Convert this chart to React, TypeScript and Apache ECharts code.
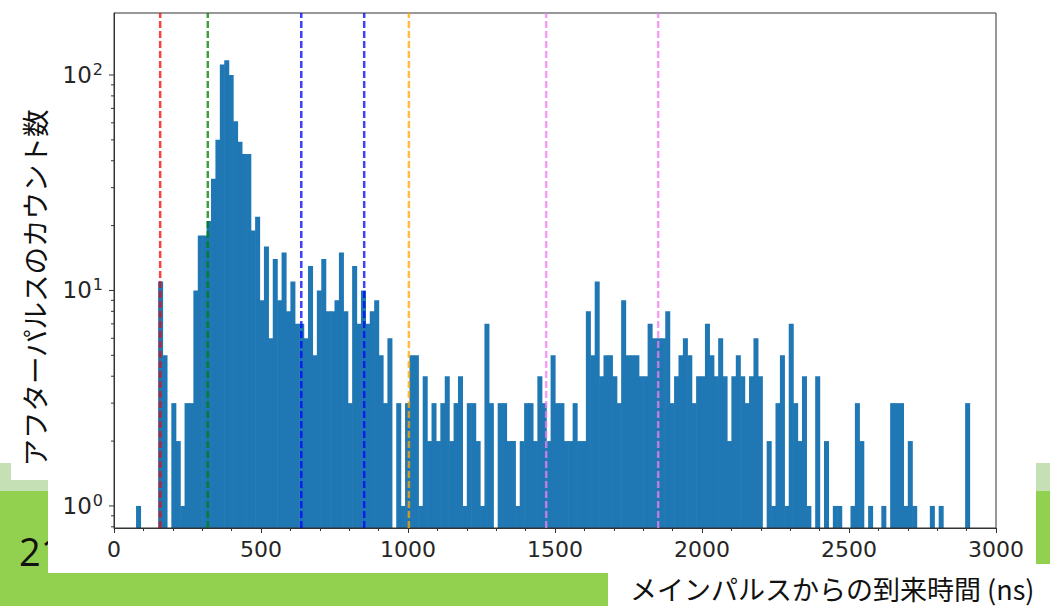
import React, { useEffect, useRef } from 'react';
import * as echarts from 'echarts';

// Histogram of after-pulse arrival times: bins of 15 ns starting at 75 ns.
const BIN_START = 75;
const BIN_WIDTH = 15;
const counts = [
  1, 0, 0, 0, 0, 11, 5, 0, 3, 2,
  1, 3, 3, 10, 18, 18, 21, 33, 50, 112,
  117, 100, 61, 49, 43, 43, 19, 22, 9, 16,
  6, 14, 9, 15, 8, 11, 7, 7, 6, 13,
  5, 10, 14, 8, 8, 9, 15, 8, 3, 13,
  7, 10, 7, 8, 9, 5, 3, 6, 0, 3,
  1, 3, 5, 5, 1, 4, 2, 3, 2, 3,
  4, 2, 3, 4, 1, 3, 3, 2, 1, 7,
  3, 0, 3, 3, 2, 2, 1, 2, 3, 3,
  2, 4, 3, 2, 5, 3, 3, 2, 2, 3,
  2, 2, 8, 5, 11, 4, 5, 5, 4, 3,
  9, 5, 5, 5, 4, 4, 7, 6, 6, 6,
  8, 3, 4, 5, 6, 5, 3, 4, 4, 7,
  5, 4, 6, 4, 2, 4, 5, 4, 3, 4,
  6, 4, 0, 2, 1, 3, 5, 1, 7, 3,
  2, 4, 1, 0, 4, 0, 2, 0, 1, 1,
  0, 0, 1, 3, 2, 0, 1, 0, 0, 1,
  0, 3, 3, 3, 1, 2, 1, 0, 0, 0,
  1, 0, 1, 0, 0, 0, 0, 0, 3,
];

// Reference times (ns) marked with dashed vertical lines.
const markerTimes = [157, 319, 637, 851, 1003, 1470, 1851];
const markerColors = ['#ff0000', '#008000', '#0000ff', '#0000ff', '#ffa500', '#ee82ee', '#ee82ee'];

// Log-axis tick values.
const yMajorTicks = [1, 10, 100];
const yMinorTicks = [0.8, 0.9, 2, 3, 4, 5, 6, 7, 8, 9, 20, 30, 40, 50, 60, 70, 80, 90];

const Y_MIN = 0.79;
const Y_MAX = 194;
const X_MIN = 0;
const X_MAX = 3000;

const yTitle = 'アフターパルスのカウント数';
const xTitle = 'メインパルスからの到来時間 (ns)';
const pageNumber = '21';

const AXIS_COLOR = '#333333';
const LABEL_COLOR = '#262626';
const BAR_COLOR = '#1f77b4';
const GREEN = '#92d050';
const LIGHT_GREEN = '#c5e0b4';

export default function App() {
  const ref = useRef<HTMLDivElement>(null);

  useEffect(() => {
    if (!ref.current) return;
    const chart = echarts.init(ref.current, null, { renderer: 'svg' });

    const bins = counts
      .map((c, i) => [BIN_START + i * BIN_WIDTH, BIN_START + (i + 1) * BIN_WIDTH, c])
      .filter((d) => d[2] > 0);

    const tickData = [
      ...yMajorTicks.map((v) => [X_MIN, v, 1]),
      ...yMinorTicks.filter((v) => v >= Y_MIN && v <= Y_MAX).map((v) => [X_MIN, v, 0]),
    ];

    const rect = (x: number, y: number, w: number, h: number, fill: string, z: number) => ({
      type: 'rect',
      shape: { x, y, width: w, height: h },
      style: { fill },
      z,
      silent: true,
    });

    const option: any = {
      animation: false,
      backgroundColor: '#ffffff',
      grid: {
        left: 114,
        right: 54,
        top: 13,
        bottom: 78,
        show: true,
        borderColor: AXIS_COLOR,
        borderWidth: 1,
        backgroundColor: 'transparent',
        z: 3,
      },
      xAxis: {
        type: 'value',
        min: X_MIN,
        max: X_MAX,
        interval: 500,
        z: 5,
        axisLine: { show: true, onZero: false, lineStyle: { color: AXIS_COLOR, width: 1 } },
        axisTick: { show: true, length: 5, lineStyle: { color: AXIS_COLOR } },
        minorTick: { show: true, splitNumber: 5, length: 3, lineStyle: { color: AXIS_COLOR } },
        splitLine: { show: false },
        minorSplitLine: { show: false },
        axisLabel: {
          fontSize: 22,
          fontFamily: 'DejaVu Sans',
          color: LABEL_COLOR,
          margin: 10,
          formatter: (v: number) => String(v),
        },
      },
      yAxis: {
        type: 'log',
        logBase: 10,
        min: Y_MIN,
        max: Y_MAX,
        z: 5,
        axisLine: { show: true, onZero: false, lineStyle: { color: AXIS_COLOR, width: 1 } },
        axisTick: { show: false },
        minorTick: { show: false },
        splitLine: { show: false },
        axisLabel: {
          margin: 11,
          showMinLabel: false,
          showMaxLabel: false,
          formatter: (v: number) => {
            const l = Math.log10(v);
            const e = Math.round(l);
            return Math.abs(l - e) < 1e-6 ? `{b|10}{s|${e}}` : '';
          },
          rich: {
            b: { fontSize: 23, fontFamily: 'DejaVu Sans', color: LABEL_COLOR, lineHeight: 27 },
            s: { fontSize: 16, fontFamily: 'DejaVu Sans', color: LABEL_COLOR, lineHeight: 14, verticalAlign: 'top', padding: [0, 0, 0, 1] },
          },
        },
      },
      graphic: {
        elements: [
          rect(0, 463, 1050, 28, LIGHT_GREEN, -10),
          rect(0, 491, 1050, 115, GREEN, -10),
          {
            type: 'text',
            x: 19,
            y: 551,
            z: -9,
            silent: true,
            style: { text: pageNumber, fontSize: 38, fontFamily: 'Open Sans', fill: '#111111', verticalAlign: 'middle' },
          },
          rect(11, 0, 37, 480, '#ffffff', -8),
          rect(48, 0, 988, 573, '#ffffff', -8),
          rect(608, 564, 442, 42, '#ffffff', -8),
          {
            type: 'text',
            x: 34,
            y: 288,
            rotation: Math.PI / 2,
            z: 6,
            silent: true,
            style: {
              text: yTitle,
              fontSize: 27.5,
              fontFamily: 'Noto Sans CJK JP',
              fill: '#111111',
              align: 'center',
              verticalAlign: 'middle',
            },
          },
          {
            type: 'text',
            x: 630,
            y: 588,
            z: 6,
            silent: true,
            style: {
              text: xTitle,
              fontSize: 27,
              fontFamily: 'Noto Sans CJK JP',
              fill: '#111111',
              align: 'left',
              verticalAlign: 'middle',
            },
          },
        ],
      },
      series: [
        {
          type: 'custom',
          name: 'counts',
          z: 2,
          data: bins,
          encode: { x: [0, 1], y: 2 },
          renderItem: (params: any, api: any) => {
            const x0 = api.value(0);
            const x1 = api.value(1);
            const c = api.value(2);
            const top = api.coord([x0, c]);
            const bottom = api.coord([x1, Y_MIN]);
            // a small overlap keeps neighbouring bins free of anti-aliasing seams
            return {
              type: 'rect',
              shape: { x: top[0], y: top[1], width: bottom[0] - top[0] + 0.6, height: bottom[1] - top[1] },
              style: { fill: BAR_COLOR },
            };
          },
        },
        {
          type: 'custom',
          name: 'yticks',
          z: 6,
          clip: false,
          silent: true,
          data: tickData,
          encode: { x: 0, y: 1 },
          renderItem: (params: any, api: any) => {
            const p = api.coord([api.value(0), api.value(1)]);
            const len = api.value(2) ? 5 : 3;
            return {
              type: 'line',
              shape: { x1: p[0] - len, y1: p[1], x2: p[0], y2: p[1] },
              style: { stroke: AXIS_COLOR, lineWidth: 1 },
            };
          },
        },
        ...markerTimes.map((t, i) => ({
          type: 'line',
          name: `marker${i}`,
          z: 4,
          silent: true,
          symbol: 'none',
          data: [
            [t, Y_MIN],
            [t, Y_MAX],
          ],
          lineStyle: { color: markerColors[i], opacity: 0.75, width: 2.5, type: [7, 3] },
        })),
      ],
    };

    chart.setOption(option);
    return () => chart.dispose();
  }, []);

  return (
    <div
      ref={ref}
      style={{ position: 'fixed', left: 0, top: 0, width: 1050, height: 606 }}
    />
  );
}
